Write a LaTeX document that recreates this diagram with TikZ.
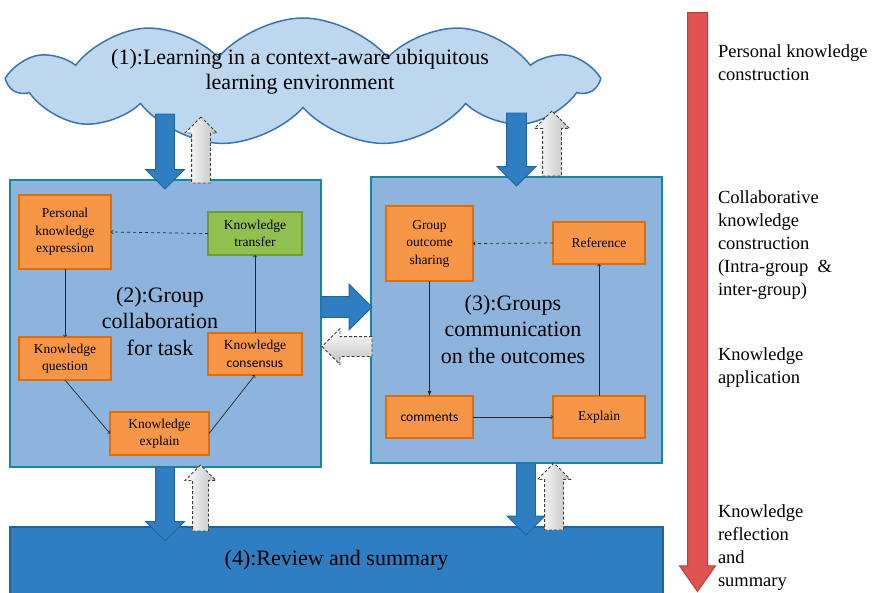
\documentclass[tikz,border=0pt]{standalone}
\usepackage{fontspec}
\setmainfont{Liberation Serif}
\newfontfamily\calibrifont{Carlito}
\usetikzlibrary{shapes.symbols,shapes.arrows}

\definecolor{cloudfill}{HTML}{BDD7EE}
\definecolor{cloudline}{HTML}{3A75B0}
\definecolor{boxfill}{HTML}{8DB4DC}
\definecolor{boxline}{HTML}{17889C}
\definecolor{taskfill}{HTML}{F79646}
\definecolor{taskline}{HTML}{E36C0A}
\definecolor{donefill}{HTML}{92C050}
\definecolor{doneline}{HTML}{6E9A3A}
\definecolor{pushfill}{HTML}{2E7EC1}
\definecolor{pushline}{HTML}{1F65A3}
\definecolor{redfill}{HTML}{E05252}
\definecolor{redline}{HTML}{BE3F3B}

\newcommand\fs[2]{\fontsize{#1}{#2}\selectfont}

\begin{document}
\begin{tikzpicture}
[x=1pt,y=-1pt,
 every node/.style={inner sep=0pt,outer sep=0pt},
 stage/.style={rectangle,draw=boxline,fill=boxfill,line width=1.5pt},
 task/.style={rectangle,draw=taskline,fill=taskfill,line width=1.2pt,align=center,font=\fs{13.5}{17.5}},
 done/.style={task,draw=doneline,fill=donefill},
 big/.style={align=center,font=\fs{22}{26.5}},
 phase/.style={anchor=north west,align=left,font=\fs{18.5}{23}},
 push/.style={single arrow,anchor=tip,draw=pushline,fill=pushfill,line width=0.8pt},
 back/.style={single arrow,anchor=tip,draw=black!75,dash pattern=on 3pt off 2pt,line width=0.8pt,left color=white,right color=black!25},
 flow/.style={->,black!85,line width=0.7pt},
 hint/.style={flow,dashed}]

\useasboundingbox (0,0) rectangle (873,592);

% (1) environment
\node[cloud,cloud puffs=11,cloud puff arc=100,cloud ignores aspect,draw=cloudline,fill=cloudfill,
      line width=1.5pt,minimum width=584,minimum height=128] (env) at (303,82) {};
\node[big,font=\fs{22}{25}] (envlab) at (300,72) {(1):Learning in a context-aware ubiquitous\\learning environment};

% (2) group collaboration
\node[stage,minimum width=311,minimum height=287] (grp) at (165.5,323.5) {};
\node[big] (grplab) at (160,321) {(2):Group\\collaboration\\for task};
\node[task,minimum width=92,minimum height=74] (pke) at (65,232)    {Personal\\knowledge\\expression};
\node[done,minimum width=94,minimum height=43] (ktr) at (255,233.5) {Knowledge\\transfer};
\node[task,minimum width=92,minimum height=43] (kq)  at (65,358.5)  {Knowledge\\question};
\node[task,minimum width=94,minimum height=42] (kc)  at (255,354)   {Knowledge\\{\calibrifont consensus}};
\node[task,minimum width=99,minimum height=43] (ke)  at (159.5,433.5) {Knowledge\\explain};
\path[hint] (ktr.west)  edge (pke.east);
\path[flow] (pke.south) edge (kq.north);
\path[flow] (kq.south)  edge (ke.west);
\path[flow] (ke.east)   edge (kc.south);
\path[flow] (kc.north)  edge (ktr.south);

% (3) groups communication
\node[stage,minimum width=291,minimum height=286] (com) at (516.5,320) {};
\node[big] (comlab) at (513,329) {(3):Groups\\communication\\on the outcomes};
\node[task,minimum width=87,minimum height=75] (gos)  at (429.5,243.5) {Group\\outcome\\sharing};
\node[task,minimum width=92,minimum height=42] (refn) at (599,243)     {Reference};
\node[task,minimum width=87,minimum height=42] (cmt)  at (429.5,417)   {\calibrifont comments};
\node[task,minimum width=92,minimum height=42] (expl) at (599,417)     {Explain};
\path[hint] (refn.west) edge (gos.east);
\path[flow,-latex] (gos.south) edge (cmt.north);
\path[flow] (cmt.east)  edge (expl.west);
\path[flow] (expl.north) edge (refn.south);

% (4) review
\node[rectangle,draw=pushline,fill=pushfill,line width=1.2pt,minimum width=653,minimum height=67,
      font=\fs{22}{26}] (rev) at (336.5,560.5) {(4):Review and summary};

% block arrows
\node[push,shape border rotate=270,minimum height=75,inner sep=9,single arrow head extend=10]    (a1) at (165,189)   {};
\node[back,shape border rotate=90, minimum height=66,inner sep=9,single arrow head extend=6.5]   (b1) at (201,117)   {};
\node[push,shape border rotate=270,minimum height=73,inner sep=9.5,single arrow head extend=9.5] (a2) at (516.5,186) {};
\node[back,shape border rotate=90, minimum height=65,inner sep=9,single arrow head extend=8]     (b2) at (552,111)   {};
\node[push,minimum height=51,inner sep=10,single arrow head extend=12.5] (a3) at (372,307) {};
\node[back,shape border rotate=180,minimum height=50,inner sep=9.5,single arrow head extend=8,
      top color=white,bottom color=black!25] (b3) at (322,346.5) {};
\node[push,shape border rotate=270,minimum height=74,inner sep=9,single arrow head extend=10]    (a4) at (165,541)   {};
\node[back,shape border rotate=90, minimum height=66,inner sep=7.5,single arrow head extend=7.5] (b4) at (200.5,465) {};
\node[push,shape border rotate=270,minimum height=72,inner sep=9,single arrow head extend=9.5]   (a5) at (526,535)   {};
\node[back,shape border rotate=90, minimum height=67,inner sep=9,single arrow head extend=7]     (b5) at (554,463)   {};

% phases
\node[single arrow,anchor=tip,single arrow tip angle=70,shape border rotate=270,draw=redline,fill=redfill,line width=1pt,
      minimum height=579,inner sep=9.5,single arrow head extend=8] (time) at (697.5,591.5) {};
\node[phase] (ph1) at (718,45)  {Personal knowledge\\construction};
\node[phase] (ph2) at (718,191) {Collaborative\\knowledge\\construction\\(Intra-group~~\&\\inter-group)};
\node[phase] (ph3) at (718,348) {Knowledge\\application};
\node[phase] (ph4) at (718,505) {Knowledge\\reflection\\and\\summary};

\end{tikzpicture}
\end{document}
